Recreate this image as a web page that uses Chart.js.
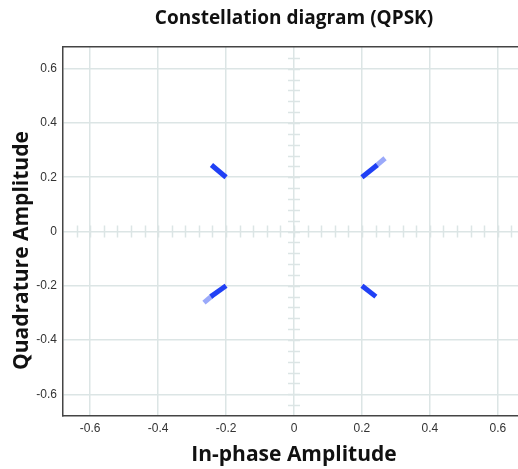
<!DOCTYPE html>
<html>
<head>
<meta charset="utf-8">
<script src="https://cdn.jsdelivr.net/npm/chart.js@4.4.1/dist/chart.umd.min.js"></script>
<style>
  html, body { margin: 0; padding: 0; background: #fff; overflow: hidden; }
  #wrap { position: relative; width: 525px; height: 469px; }
</style>
</head>
<body>
<div id="wrap"><canvas id="c"></canvas></div>
<script>
// ---- data ----
const titleText = 'Constellation diagram (QPSK)';
const xLabel = 'In-phase Amplitude';
const yLabel = 'Quadrature Amplitude';
const tickValues = [-0.6, -0.4, -0.2, 0, 0.2, 0.4, 0.6];
const minorStep = 0.04;
const axisMin = -0.68, axisMax = 0.68;

// dense (dark) trails of each constellation point
const trailTopLeft = [{x: -0.2, y: 0.2}, {x: -0.243, y: 0.245}];
const trailTopRight = [{x: 0.2, y: 0.2}, {x: 0.245, y: 0.245}];
const trailBottomLeft = [{x: -0.2, y: -0.2}, {x: -0.245, y: -0.24}];
const trailBottomRight = [{x: 0.2, y: -0.2}, {x: 0.241, y: -0.24}];
// sparse (faded) ends
const fadeTopRight = [{x: 0.24, y: 0.24}, {x: 0.268, y: 0.27}];
const fadeBottomLeft = [{x: -0.24, y: -0.236}, {x: -0.265, y: -0.262}];

const dark = '#2040f5';
const light = 'rgba(32,64,245,0.45)';
const gridColor = '#dce5e5';

function seg(data, color) {
  return { data, showLine: true, borderColor: color, backgroundColor: color,
           borderWidth: 5, pointRadius: 0, borderCapStyle: 'butt', tension: 0 };
}

const minorTicks = {
  id: 'minorTicks',
  beforeDatasetsDraw(chart) {
    const xs = chart.scales.x, ys = chart.scales.y, ctx = chart.ctx;
    const x0 = xs.getPixelForValue(0), y0 = ys.getPixelForValue(0);
    ctx.save();
    ctx.strokeStyle = gridColor;
    ctx.lineWidth = 1.5;
    ctx.beginPath();
    const n = Math.round(0.64 / minorStep);
    for (let i = -n; i <= n; i++) {
      const v = i * minorStep;
      const px = Math.round(xs.getPixelForValue(v)) + 0.5;
      ctx.moveTo(px, y0 - 6); ctx.lineTo(px, y0 + 6);
      const py = Math.round(ys.getPixelForValue(v)) + 0.5;
      ctx.moveTo(x0 - 6, py); ctx.lineTo(x0 + 6, py);
    }
    ctx.stroke();
    ctx.restore();
  }
};

const setTicks = s => { s.ticks = tickValues.map(v => ({ value: v })); };
const titleFont = { family: 'Open Sans', size: 19, weight: '700' };
const labelFont = { family: 'Open Sans', size: 21, weight: '700' };
const tickFont = { family: 'Liberation Sans', size: 12 };
const pad = '\u00A0'.repeat(7);

new Chart(document.getElementById('c'), {
  type: 'scatter',
  data: {
    datasets: [
      seg(fadeTopRight, light),
      seg(fadeBottomLeft, light),
      seg(trailTopLeft, dark),
      seg(trailTopRight, dark),
      seg(trailBottomLeft, dark),
      seg(trailBottomRight, dark)
    ]
  },
  options: {
    responsive: true,
    maintainAspectRatio: false,
    animation: false,
    layout: { padding: 0 },
    plugins: { legend: { display: false }, tooltip: { enabled: false }, title: { display: false } },
    scales: {
      x: {
        type: 'linear', position: 'bottom', min: axisMin, max: axisMax,
        afterBuildTicks: setTicks,
        afterFit: s => { s.height = 53; },
        grid: { color: gridColor, lineWidth: 1.5, drawTicks: false },
        border: { color: '#444', width: 1.5 },
        ticks: { padding: 5, color: '#333', font: tickFont },
        title: { display: true, text: xLabel, color: '#111', font: labelFont, padding: { top: 2, bottom: 1 } }
      },
      xTop: {
        type: 'linear', axis: 'x', position: 'top', min: axisMin, max: axisMax,
        afterFit: s => { s.height = 47; },
        grid: { display: false },
        border: { display: true, color: '#444', width: 1.5 },
        ticks: { display: false },
        title: { display: true, text: titleText, color: '#111', font: titleFont, padding: { top: 7, bottom: 0 } }
      },
      y: {
        type: 'linear', position: 'left', min: axisMin, max: axisMax,
        afterBuildTicks: setTicks,
        afterFit: s => { s.width = 63; },
        grid: { color: gridColor, lineWidth: 1.5, drawTicks: false },
        border: { color: '#444', width: 1.5 },
        ticks: { padding: 6, color: '#333', font: tickFont },
        title: { display: true, text: yLabel + pad, color: '#111', font: labelFont, padding: { top: 9, bottom: 0 } }
      }
    }
  },
  plugins: [minorTicks]
});
</script>
</body>
</html>
